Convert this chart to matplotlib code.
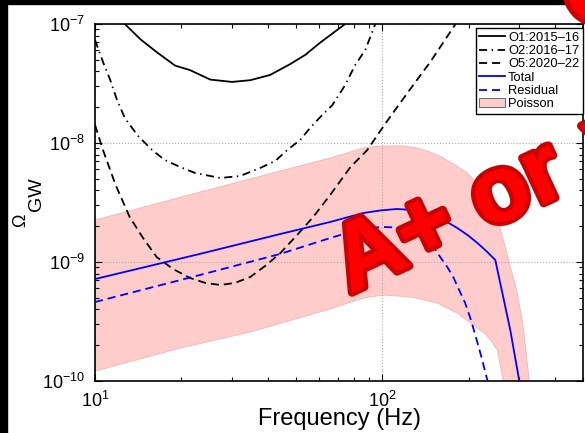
import matplotlib
matplotlib.use('Agg')
import matplotlib.pyplot as plt
import matplotlib.patheffects as pe
from matplotlib.patches import Rectangle, Ellipse
from matplotlib.ticker import LogLocator, NullFormatter

plt.rcParams['font.family'] = ['Liberation Sans', 'DejaVu Sans']
plt.rcParams['mathtext.fontset'] = 'custom'
plt.rcParams['mathtext.rm'] = 'Liberation Sans'
plt.rcParams['mathtext.it'] = 'Liberation Sans:italic'
plt.rcParams['mathtext.bf'] = 'Liberation Sans:bold'

# sensitivity curves
o1_freq = [12.7, 14.4, 16.4, 19.0, 21.4, 25.2, 30.0, 34.7, 40.7, 47.8, 54.0,
           60.8, 74.3]
o1_omega = [1.0e-7, 7.43e-8, 5.8e-8, 4.47e-8, 4.1e-8, 3.41e-8, 3.26e-8, 3.37e-8,
            3.73e-8, 4.6e-8, 5.51e-8, 6.97e-8, 1.0e-7]

o2_freq = [10.0, 10.66, 11.3, 11.9, 12.7, 14.1, 15.8, 17.5, 19.8, 22.3, 27.3,
           32.0, 37.6, 42.4, 46.7, 51.8, 56.1, 60.8, 67.0, 74.3, 80.5, 87.3, 94.6]
o2_omega = [7.34e-8, 4.8e-8, 3.38e-8, 2.34e-8, 1.62e-8, 1.15e-8, 8.73e-9,
            7.19e-9, 6.28e-9, 5.6e-9, 5.08e-9, 5.28e-9, 6.17e-9, 7.06e-9,
            8.73e-9, 1.06e-8, 1.34e-8, 1.65e-8, 2.08e-8, 3.07e-8, 4.52e-8,
            6.05e-8, 1.0e-7]

o5_freq = [10.0, 10.66, 11.8, 13.2, 14.7, 16.4, 18.7, 21.4, 24.2, 27.3, 30.7,
           34.7, 39.1, 44.2, 50.6, 57.5, 65.9, 77.5, 88.7, 102.4, 117.5, 131.3,
           147.0, 161.8, 180.0]
o5_omega = [1.42e-8, 8.73e-9, 4.43e-9, 2.39e-9, 1.59e-9, 1.10e-9, 8.73e-10,
            7.35e-10, 6.67e-10, 6.41e-10, 6.67e-10, 7.48e-10, 9.25e-10, 1.19e-9,
            1.69e-9, 2.39e-9, 3.66e-9, 6.28e-9, 8.73e-9, 1.45e-8, 2.30e-8,
            3.32e-8, 4.8e-8, 6.79e-8, 1.0e-7]

# background estimates
total_freq = [10.0, 23.2, 44.2, 65.9, 85.9, 98.4, 112.7, 128.2, 141.0, 155.5,
              168.0, 182.5, 197.8, 214.0, 230.0, 247.5, 279.0, 300.0, 310.0]
total_omega = [7.19e-10, 1.17e-9, 1.72e-9, 2.17e-9, 2.58e-9, 2.71e-9, 2.79e-9,
               2.73e-9, 2.58e-9, 2.34e-9, 2.17e-9, 1.93e-9, 1.69e-9, 1.45e-9,
               1.24e-9, 1.04e-9, 2.69e-10, 1.0e-10, 6.0e-11]

resid_freq = [10.0, 23.2, 44.2, 65.9, 81.8, 90.8, 100.7, 110.9, 122.2, 132.4,
              143.5, 151.7, 159.2, 168.4, 176.7, 185.2, 194.4, 202.6, 210.8,
              221.5, 232.1, 236.0]
resid_omega = [4.61e-10, 7.78e-10, 1.17e-9, 1.59e-9, 1.86e-9, 1.93e-9, 1.97e-9,
               1.95e-9, 1.89e-9, 1.75e-9, 1.53e-9, 1.31e-9, 1.10e-9, 9.08e-10,
               7.48e-10, 5.82e-10, 4.52e-10, 3.38e-10, 2.44e-10, 1.59e-10,
               1.02e-10, 8.3e-11]

poisson_up_freq = [10.0, 23.2, 44.2, 65.9, 85.9, 94.6, 106.7, 119.4, 132.4,
                   146.9, 163.2, 179.5, 197.8, 210.8, 224.8, 237.8, 251.6, 264.1,
                   279.3, 295.3, 309.7, 325.0, 330.0]
poisson_up = [2.25e-9, 3.87e-9, 5.82e-9, 7.48e-9, 9.08e-9, 9.35e-9, 9.44e-9,
              9.44e-9, 9.08e-9, 8.4e-9, 7.48e-9, 6.53e-9, 5.60e-9, 4.70e-9,
              3.80e-9, 3.01e-9, 2.39e-9, 1.53e-9, 9.08e-10, 5.49e-10, 2.84e-10,
              1.0e-10, 6.9e-11]
poisson_lo_freq = [10.0, 19.8, 34.7, 65.9, 85.9, 100.7, 125.4, 135.5, 155.5,
                   168.4, 182.5, 194.4, 207.6, 228.5, 239.6, 251.6, 264.0, 268.6]
poisson_lo = [1.21e-10, 1.89e-10, 2.58e-10, 4.03e-10, 4.98e-10, 5.28e-10,
              5.08e-10, 4.89e-10, 4.52e-10, 4.10e-10, 3.72e-10, 3.32e-10,
              2.96e-10, 2.48e-10, 2.17e-10, 1.82e-10, 1.0e-10, 7.6e-11]

fig = plt.figure(figsize=(5.85, 4.33), dpi=100)
ax = fig.add_axes([0.1624, 0.1201, 0.8342, 0.8245])

# Poisson band as a polygon: upper edge then lower edge reversed
band_x = poisson_up_freq + poisson_lo_freq[::-1]
band_y = poisson_up + poisson_lo[::-1]
poisson = ax.fill(band_x, band_y, facecolor='#FFCCCC', edgecolor='#F2B5B5',
                  linewidth=0.6, label='Poisson', zorder=1)[0]

lw = 1.3
l1, = ax.plot(o1_freq, o1_omega, color='black', lw=lw, label='O1:2015\u201316', zorder=3)
l2, = ax.plot(o2_freq, o2_omega, color='black', lw=lw, dashes=(4.5, 2.5, 0.8, 2.5),
              label='O2:2016\u201317', zorder=3)
l5, = ax.plot(o5_freq, o5_omega, color='black', lw=lw, dashes=(4.5, 2.7),
              label='O5:2020\u201322', zorder=3)
lt, = ax.plot(total_freq, total_omega, color='#0000FF', lw=lw, label='Total', zorder=3)
lr, = ax.plot(resid_freq, resid_omega, color='#0000FF', lw=lw, dashes=(4.5, 2.7),
              label='Residual', zorder=3)

ax.set_xscale('log')
ax.set_yscale('log')
ax.set_xlim(10, 500)
ax.set_ylim(1e-10, 1e-7)
ax.xaxis.set_minor_locator(LogLocator(base=10, subs=range(2, 10)))
ax.yaxis.set_minor_locator(LogLocator(base=10, subs=range(2, 10)))
ax.xaxis.set_minor_formatter(NullFormatter())
ax.yaxis.set_minor_formatter(NullFormatter())

ax.tick_params(which='both', direction='in', top=True, right=True, width=0.8)
ax.tick_params(which='major', length=5, labelsize=13)
ax.tick_params(which='minor', length=3)
ax.tick_params(axis='x', pad=7)
ax.tick_params(axis='y', pad=7)
for s in ax.spines.values():
    s.set_linewidth(1.2)

ax.grid(True, which='major', linestyle=':', color='#aaaaaa', linewidth=0.8)

ax.set_xlabel('Frequency (Hz)', fontsize=17, labelpad=-2)

# y label: Omega with a big, low subscript like the original
fig.text(21 / 585, 1 - 220 / 433, '\u03a9', fontsize=13, rotation=90,
         ha='center', va='center')
fig.text(36 / 585, 1 - 194 / 433, 'GW', fontsize=14, rotation=90,
         ha='center', va='center')

leg = ax.legend(handles=[l1, l2, l5, lt, lr, poisson], loc='upper right',
                bbox_to_anchor=(1.0, 0.989), borderaxespad=0, fontsize=9.3,
                fancybox=False, edgecolor='black', framealpha=1,
                labelspacing=0.1, handlelength=2.0, handletextpad=0.2,
                borderpad=0.3)
leg.get_frame().set_linewidth(1.0)
leg.legend_handles[5].set_edgecolor('#555555')

# black border strips of the screenshot
fig.patches.append(Rectangle((0, 1 - 4 / 433), 1, 4 / 433, transform=fig.transFigure,
                             color='black', zorder=5))
fig.patches.append(Rectangle((0, 0), 7 / 585, 1, transform=fig.transFigure,
                             color='black', zorder=5))
fig.patches.append(Ellipse((1.0256, 1.0231), 0.1197, 0.1617, transform=fig.transFigure,
                           facecolor='#FF0000', edgecolor='#CC0000', lw=4, zorder=6))

# red overlay stamp
stamp = dict(fontsize=68, fontweight='bold', color='#FF0000', rotation=25,
             rotation_mode='anchor', ha='left', va='baseline', zorder=7,
             path_effects=[pe.Stroke(linewidth=6, foreground='#CC0000',
                                     joinstyle='round'), pe.Normal()])
fig.text(0.598, 0.322, 'A+ or', **stamp)
fig.text(1.0393, 0.5727, 'Voyager', **stamp)

fig.savefig('out.png', dpi=100)
